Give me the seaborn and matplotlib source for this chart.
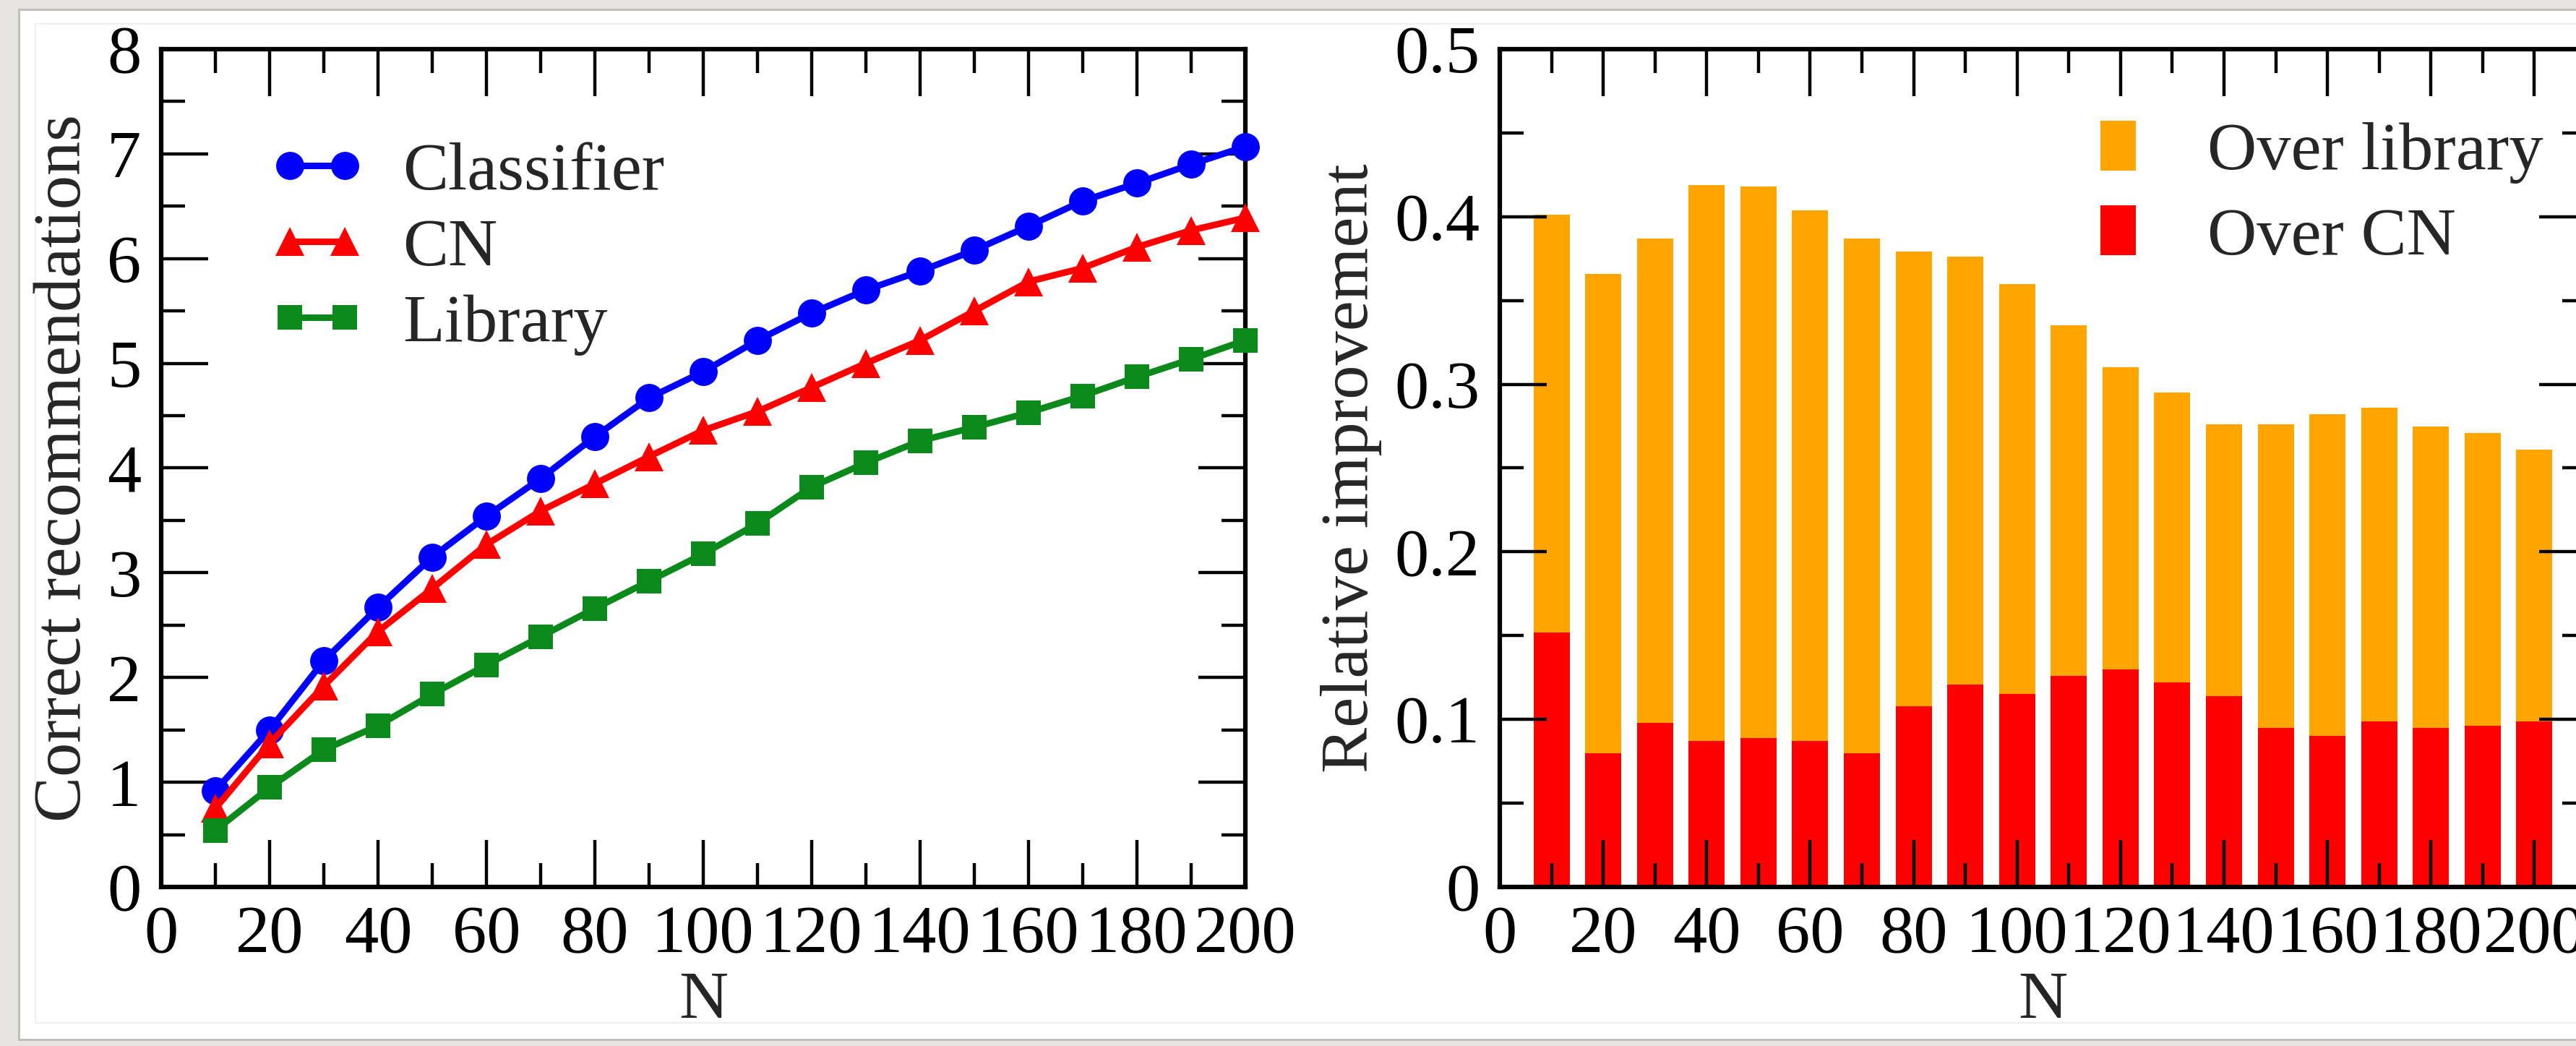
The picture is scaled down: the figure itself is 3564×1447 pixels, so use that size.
import numpy as np
import pandas as pd
import seaborn as sns
import matplotlib
matplotlib.use("Agg")
import matplotlib.pyplot as plt
from matplotlib.ticker import MultipleLocator, FuncFormatter
from matplotlib.patches import Rectangle, Patch
from matplotlib.lines import Line2D

# ---------------- data ----------------
N = [10, 20, 30, 40, 50, 60, 70, 80, 90, 100,
     110, 120, 130, 140, 150, 160, 170, 180, 190, 200]
classifier = [0.92, 1.50, 2.16, 2.67, 3.15, 3.54, 3.90, 4.30, 4.67, 4.92,
              5.22, 5.48, 5.70, 5.88, 6.08, 6.31, 6.55, 6.72, 6.90, 7.07]
cn = [0.75, 1.37, 1.92, 2.44, 2.85, 3.27, 3.59, 3.85, 4.11, 4.36,
      4.54, 4.77, 5.00, 5.22, 5.50, 5.78, 5.91, 6.11, 6.27, 6.39]
library = [0.54, 0.95, 1.31, 1.54, 1.84, 2.12, 2.39, 2.66, 2.92, 3.18,
           3.47, 3.82, 4.05, 4.26, 4.39, 4.53, 4.69, 4.87, 5.04, 5.22]

over_library = [0.401, 0.366, 0.387, 0.419, 0.418, 0.404, 0.387, 0.379, 0.376, 0.360,
                0.335, 0.310, 0.295, 0.276, 0.276, 0.282, 0.286, 0.275, 0.271, 0.261]
over_cn = [0.152, 0.080, 0.098, 0.087, 0.089, 0.087, 0.080, 0.108, 0.121, 0.115,
           0.126, 0.130, 0.122, 0.114, 0.095, 0.090, 0.099, 0.095, 0.096, 0.099]

line_labels = ["Classifier", "CN", "Library"]
bar_labels = ["Over library", "Over CN"]

# ---------------- style ----------------
sns.set_theme(style="ticks")
plt.rcParams["font.family"] = ["Liberation Serif", "DejaVu Serif"]

FS = 68
W, H = 3564, 1447
DPI = 100
fig = plt.figure(figsize=(W / DPI, H / DPI), dpi=DPI)
fig.set_facecolor("#e6e4e0")

# white card
fig.patches.append(Rectangle((26 / W, 1 - 1438 / H), 1.0, (1438 - 13) / H,
                             transform=fig.transFigure, facecolor="white",
                             edgecolor="#bdbbb7", linewidth=2, zorder=-10))
fig.patches.append(Rectangle((49 / W, 1 - 1415 / H), 1.0, (1415 - 33) / H,
                             transform=fig.transFigure, facecolor="none",
                             edgecolor="#ececec", linewidth=1.2, zorder=-9))

def px_axes(x0, x1, ytop, ybot):
    return fig.add_axes([x0 / W, 1 - ybot / H, (x1 - x0) / W, (ybot - ytop) / H])

ax1 = px_axes(223, 1723, 68, 1227)
ax2 = px_axes(2075, 3578, 68, 1227)

for ax in (ax1, ax2):
    ax.set_facecolor("none")
    for sp in ax.spines.values():
        sp.set_visible(True)
        sp.set_linewidth(4.5)
        sp.set_color("black")
    ax.tick_params(which="both", direction="in", top=True, right=True,
                   width=3.2, colors="black", labelsize=FS)
    ax.tick_params(which="major", length=47)
    ax.tick_params(which="minor", length=24)
    ax.tick_params(axis="x", which="major", pad=18)
    ax.tick_params(axis="y", which="major", pad=20)

# ---------------- left: lines ----------------
colors = ["#0000ff", "#ff0000", "#0b8a1b"]
markers = ["o", "^", "s"]
msizes = [28, 29, 25]
LW = 6.5
series = [classifier, cn, library]
for vals, c, m, ms in zip(series, colors, markers, msizes):
    sns.lineplot(x=N, y=vals, ax=ax1, color=c, marker=m, markersize=ms,
                 markeredgewidth=0, linewidth=LW, clip_on=False, zorder=3,
                 legend=False)

ax1.set_xlim(0, 200)
ax1.set_ylim(0, 8)
ax1.xaxis.set_major_locator(MultipleLocator(20))
ax1.xaxis.set_minor_locator(MultipleLocator(10))
ax1.yaxis.set_major_locator(MultipleLocator(1))
ax1.yaxis.set_minor_locator(MultipleLocator(0.5))
ax1.xaxis.set_major_formatter(FuncFormatter(lambda v, p: f"{v:g}"))
ax1.yaxis.set_major_formatter(FuncFormatter(lambda v, p: f"{v:g}"))
ax1.set_xlabel("N", fontsize=FS, labelpad=4)
ax1.set_ylabel("Correct recommendations", fontsize=FS, labelpad=12)

handles1 = [Line2D([], [], color=c, marker=m, markersize=ms, markeredgewidth=0,
                   linewidth=LW) for c, m, ms in zip(colors, markers, msizes)]
ax1.legend(handles1, line_labels, loc="upper left", bbox_to_anchor=(0.1, 0.89),
           frameon=False, fontsize=FS, numpoints=2, handlelength=1.4,
           handletextpad=0.55, labelspacing=0.2, borderpad=0, borderaxespad=0)

# ---------------- right: bars ----------------
sns.barplot(x=N, y=over_library, ax=ax2, native_scale=True, width=0.7,
            color="#ffa500", saturation=1, linewidth=0, zorder=1)
sns.barplot(x=N, y=over_cn, ax=ax2, native_scale=True, width=0.7,
            color="#ff0000", saturation=1, linewidth=0, zorder=1.1)
ax2.set_axisbelow(False)
ax2.set_xlim(0, 210)
ax2.set_ylim(0, 0.5)
ax2.xaxis.set_major_locator(MultipleLocator(20))
ax2.xaxis.set_minor_locator(MultipleLocator(10))
ax2.yaxis.set_major_locator(MultipleLocator(0.1))
ax2.yaxis.set_minor_locator(MultipleLocator(0.05))
ax2.xaxis.set_major_formatter(FuncFormatter(lambda v, p: f"{v:g}"))
ax2.yaxis.set_major_formatter(FuncFormatter(lambda v, p: "0" if abs(v) < 1e-9 else f"{v:.1f}"))
ax2.set_xlabel("N", fontsize=FS, labelpad=4)
ax2.set_ylabel("Relative improvement", fontsize=FS, labelpad=12)

handles2 = [Patch(facecolor="#ffa500", edgecolor="none"),
            Patch(facecolor="#ff0000", edgecolor="none")]
ax2.legend(handles2, bar_labels, loc="upper left", bbox_to_anchor=(0.553, 0.915),
           frameon=False, fontsize=FS, handlelength=0.52, handleheight=0.75,
           handletextpad=1.05, labelspacing=0.32, borderpad=0, borderaxespad=0)

fig.savefig("out.png", dpi=DPI, facecolor=fig.get_facecolor())
